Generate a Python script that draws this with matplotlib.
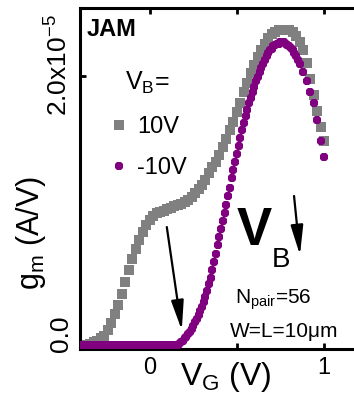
import matplotlib
matplotlib.use("Agg")
import matplotlib.pyplot as plt
import matplotlib.transforms as mtransforms

plt.rcParams['font.family'] = ['Liberation Sans', 'DejaVu Sans']
plt.rcParams['mathtext.fontset'] = 'custom'
plt.rcParams['mathtext.rm'] = 'Liberation Sans'
plt.rcParams['mathtext.it'] = 'Liberation Sans'
plt.rcParams['mathtext.bf'] = 'Liberation Sans:bold'

# ---- data (g_m in units of 1e-5 A/V) ----
vg_pos = [-0.40, -0.38, -0.36, -0.34, -0.32, -0.30, -0.28, -0.26, -0.24, -0.22,
          -0.20, -0.18, -0.16, -0.14, -0.12, -0.10, -0.08, -0.06, -0.04, -0.02,
          0.00, 0.02, 0.04, 0.06, 0.08, 0.10, 0.12, 0.14, 0.16, 0.18,
          0.20, 0.22, 0.24, 0.26, 0.28, 0.30, 0.32, 0.34, 0.36, 0.38,
          0.40, 0.42, 0.44, 0.46, 0.48, 0.50, 0.52, 0.54, 0.56, 0.58,
          0.60, 0.62, 0.64, 0.66, 0.68, 0.70, 0.72, 0.74, 0.76, 0.78,
          0.80, 0.82, 0.84, 0.86, 0.88, 0.90, 0.92, 0.94, 0.96, 0.98, 1.00]
gm_pos = [0.00, 0.00, 0.00, 0.01, 0.02, 0.03, 0.05, 0.07, 0.11, 0.16,
          0.23, 0.30, 0.38, 0.47, 0.56, 0.64, 0.71, 0.78, 0.84, 0.89,
          0.93, 0.96, 0.98, 0.99, 1.00, 1.01, 1.02, 1.03, 1.04, 1.05,
          1.06, 1.08, 1.10, 1.13, 1.16, 1.19, 1.23, 1.28, 1.32, 1.36,
          1.41, 1.47, 1.53, 1.60, 1.66, 1.73, 1.80, 1.88, 1.95, 2.02,
          2.08, 2.14, 2.19, 2.24, 2.28, 2.31, 2.33, 2.34, 2.34, 2.34,
          2.34, 2.33, 2.30, 2.25, 2.19, 2.10, 1.98, 1.86, 1.74, 1.62, 1.52]

vg_neg = [-0.40, -0.38, -0.36, -0.34, -0.32, -0.30, -0.28, -0.26, -0.24, -0.22,
          -0.20, -0.18, -0.16, -0.14, -0.12, -0.10, -0.08, -0.06, -0.04, -0.02,
          0.00, 0.02, 0.04, 0.06, 0.08, 0.10, 0.12, 0.14, 0.16,
          0.17, 0.18, 0.19, 0.20, 0.21, 0.22, 0.23, 0.24, 0.25, 0.26,
          0.27, 0.28, 0.29, 0.30, 0.31, 0.32, 0.33, 0.34, 0.35, 0.36,
          0.37, 0.38, 0.39, 0.40, 0.41, 0.42, 0.43, 0.44, 0.45, 0.46,
          0.47, 0.48, 0.49, 0.50, 0.51, 0.52, 0.53, 0.54, 0.55, 0.56,
          0.57, 0.58, 0.59, 0.60, 0.61, 0.62, 0.63, 0.64, 0.65, 0.66,
          0.67, 0.68, 0.69, 0.70, 0.71, 0.72, 0.73, 0.74, 0.75, 0.76,
          0.77, 0.78, 0.79, 0.80, 0.81, 0.82, 0.83, 0.84, 0.85, 0.86,
          0.88, 0.90, 0.92, 0.94, 0.96, 0.98, 1.00]
gm_neg = [0.00, 0.00, 0.00, 0.00, 0.00, 0.00, 0.00, 0.00, 0.00, 0.00,
          0.00, 0.00, 0.00, 0.00, 0.00, 0.00, 0.00, 0.00, 0.00, 0.00,
          0.00, 0.00, 0.00, 0.00, 0.00, 0.00, 0.00, 0.00, 0.00,
          0.01, 0.02, 0.03, 0.05, 0.06, 0.08, 0.10, 0.12, 0.14, 0.17,
          0.19, 0.22, 0.25, 0.28, 0.32, 0.36, 0.40, 0.45, 0.50, 0.56,
          0.62, 0.68, 0.74, 0.80, 0.86, 0.92, 0.98, 1.04, 1.11, 1.17,
          1.24, 1.30, 1.36, 1.42, 1.48, 1.54, 1.60, 1.65, 1.70, 1.75,
          1.80, 1.84, 1.88, 1.92, 1.96, 1.99, 2.03, 2.06, 2.09, 2.12,
          2.15, 2.17, 2.19, 2.20, 2.22, 2.23, 2.24, 2.24, 2.25, 2.25,
          2.25, 2.24, 2.23, 2.22, 2.21, 2.19, 2.17, 2.15, 2.12, 2.09,
          2.03, 1.96, 1.88, 1.80, 1.67, 1.52, 1.40]

labels = ['10V', '-10V']
scale = 1e-5

fig = plt.figure(figsize=(3.54, 4.05), dpi=100)
ax = fig.add_axes([80/354, 56/405, 274/354, 341/405])

ax.plot(vg_pos, [g*scale for g in gm_pos], ls='none', marker='s', ms=7.0,
        mfc='#808080', mec='#808080', mew=0, label=labels[0], zorder=2)
ax.plot(vg_neg, [g*scale for g in gm_neg], ls='none', marker='8', ms=6.2,
        mfc='#800080', mec='#800080', mew=0, label=labels[1], zorder=3)

ax.set_xlim(-0.40, 1.172)
ax.set_ylim(-0.03e-5, 2.506e-5)

ax.set_xticks([0, 0.5, 1])
ax.set_xticklabels(['0', '', '1'])
ax.set_yticks([0, 2e-5])
ax.set_yticklabels(['0.0', r'2.0x10$^{\mathregular{-5}}$'], rotation=90, va='center')
ax.tick_params(direction='in', length=4, width=2, top=True, right=False, pad=6)
ax.tick_params(axis='x', labelsize=17)
ax.tick_params(axis='y', labelsize=19, pad=5)
shift = mtransforms.ScaledTranslation(0, 11/100, fig.dpi_scale_trans)
for lab in ax.get_yticklabels():
    lab.set_transform(lab.get_transform() + shift)

for s in ['left', 'top', 'bottom']:
    ax.spines[s].set_linewidth(2.2)
ax.spines['right'].set_visible(False)

ax.set_xlabel(r'V$_{\mathregular{G}}$ (V)', fontsize=23)
ax.xaxis.set_label_coords(0.533, -0.032)
ax.set_ylabel(r'g$_{\mathregular{m}}$ (A/V)', fontsize=22)
ax.yaxis.set_label_coords(-0.115, 0.34)

# legend: title as separate text, entries via legend
ax.text(0.164, 0.76, r'V$_{\mathregular{B}}$=', fontsize=18, va='baseline',
        transform=ax.transAxes)
leg = ax.legend(loc='upper left', bbox_to_anchor=(0.10, 0.683), frameon=False,
                fontsize=17, handletextpad=0.25, handlelength=1.0,
                borderpad=0.0, borderaxespad=0.0, labelspacing=0.8)

ax.text(-0.362, 2.30e-5, 'JAM', fontsize=17, fontweight='bold', va='baseline')

ax.text(0.50, 0.74e-5, 'V', fontsize=38, fontweight='bold', va='baseline')
ax.text(0.70, 0.58e-5, 'B', fontsize=20, va='baseline')

ax.text(0.49, 0.31e-5, r'N$_{\mathregular{pair}}$=56', fontsize=15, va='baseline')
ax.text(0.46, 0.06e-5, 'W=L=10μm', fontsize=15, va='baseline')

arrow = dict(arrowstyle='-|>,head_length=1.8,head_width=0.38', color='black',
             lw=1.6, shrinkA=0, shrinkB=0)
ax.annotate('', xy=(0.184, 0.11e-5), xytext=(0.098, 0.877e-5), arrowprops=arrow)
ax.annotate('', xy=(0.862, 0.669e-5), xytext=(0.828, 1.108e-5), arrowprops=arrow)

fig.savefig('out.png', dpi=100)
